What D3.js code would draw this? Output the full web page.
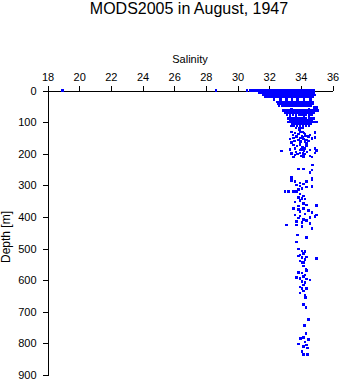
<!DOCTYPE html>
<html>
<head>
<meta charset="utf-8">
<script src="https://cdn.jsdelivr.net/npm/d3@7"></script>
<style>
  html, body { margin: 0; padding: 0; background: #fff; }
  svg { display: block; }
  text { font-family: "Liberation Sans", Arial, Helvetica, sans-serif; fill: #000; }
</style>
</head>
<body>
<svg id="chart" width="341" height="384"></svg>
<script>
// Chart text and axis ticks
const chartTitle = "MODS2005 in August, 1947";
const xLabel = "Salinity";
const yLabel = "Depth [m]";
const salinityTicks = [18, 20, 22, 24, 26, 28, 30, 32, 34, 36];
const depthTicks = [0, 100, 200, 300, 400, 500, 600, 700, 800, 900];

// Observation depths (m) and the salinities recorded at each depth
const obsDepths = [
  0, 8, 14, 21, 28, 36, 42, 48, 53, 58, 64, 70, 77, 82, 88, 94, 100,
  106, 112, 118, 123, 132, 133, 135, 138, 141, 144, 146, 148, 151, 152, 154, 157,
  159, 162, 165, 167, 172, 176, 180, 183, 186, 188, 190, 191, 194, 197, 199, 201,
  204, 207, 209, 211, 236, 249, 251, 260, 276, 278, 283, 285, 288, 292, 296, 299,
  302, 304, 306, 310, 313, 320, 327, 334, 338, 341, 344, 348, 352, 357, 362, 364,
  365, 373, 376, 380, 383, 386, 391, 394, 397, 399, 401, 404, 408, 412, 415, 418,
  420, 426, 431, 436, 457, 465, 480, 502, 507, 510, 515, 520, 524, 526, 528, 531,
  535, 539, 544, 555, 566, 570, 576, 578, 584, 589, 591, 594, 597, 600, 605, 608,
  615, 621, 626, 634, 640, 647, 655, 677, 686, 724, 743, 768, 781, 784, 787, 795,
  802, 805, 810, 814, 826, 835
];

const obsSalinity = [
  [18.95, 28.65, 30.6, 30.82, 30.95, 31.08, 31.2, 31.33, 31.46, 31.6, 31.72, 31.85, 31.98, 32.1, 32.24, 32.37, 32.5, 32.62, 32.75, 32.88, 33.0, 33.14, 33.27, 33.4, 33.52, 33.65, 33.78, 33.9, 34.04, 34.17, 34.3, 34.42, 34.55, 34.68, 34.8],
  [31.4, 31.55, 31.68, 31.8, 31.95, 32.08, 32.2, 32.34, 32.46, 32.6, 32.72, 32.86, 33.0, 33.12, 33.26, 33.4, 33.52, 33.66, 33.8, 33.92, 34.06, 34.2, 34.32, 34.45, 34.58, 34.7, 34.84],
  [31.62, 31.76, 31.9, 32.02, 32.15, 32.28, 32.42, 32.54, 32.68, 32.8, 32.94, 33.06, 33.2, 33.32, 33.46, 33.58, 33.72, 33.84, 33.98, 34.1, 34.24, 34.36, 34.5, 34.62, 34.76, 34.9],
  [31.76, 31.9, 32.02, 32.16, 32.28, 32.42, 32.54, 32.68, 32.8, 32.94, 33.06, 33.2, 33.32, 33.46, 33.58, 33.72, 33.84, 33.98, 34.1, 34.24, 34.36, 34.5, 34.62, 34.76],
  [32.3, 32.7, 33.1, 33.45, 33.8, 34.2, 34.6],
  [32.5, 32.62, 32.76, 32.9, 33.02, 33.16, 33.3, 33.42, 33.56, 33.7, 33.82, 33.96, 34.08, 34.22, 34.36, 34.48, 34.62, 34.76],
  [32.6, 32.74, 32.88, 33.0, 33.14, 33.28, 33.4, 33.54, 33.66, 33.8, 33.94, 34.06, 34.2, 34.34, 34.46, 34.6, 34.74],
  [32.62, 32.8, 32.95, 33.1, 33.25, 33.4, 33.56, 33.72, 33.88, 34.02, 34.18, 34.32, 34.48, 34.62],
  [34.84, 35.0],
  [33.4, 34.5, 34.95],
  [32.9, 33.04, 33.18, 33.3, 33.44, 33.58, 33.7, 33.84, 33.98, 34.1, 34.24, 34.38, 34.5, 34.64, 34.78, 34.92, 35.06],
  [33.0, 33.15, 33.3, 33.46, 33.6, 33.76, 33.9, 34.06, 34.2, 34.36, 34.5, 34.66, 34.82],
  [33.12, 33.3, 33.5, 33.7, 33.9, 34.1, 34.3, 34.5, 34.66],
  [33.3, 33.7, 34.2, 34.5],
  [33.22, 33.38, 33.54, 33.7, 33.86, 34.02, 34.18, 34.34, 34.5, 34.66, 34.8],
  [33.3, 33.46, 33.62, 33.78, 33.94, 34.1, 34.26, 34.42, 34.58, 34.72],
  [33.22, 33.4, 33.56, 33.72, 33.88, 34.04, 34.2, 34.36, 34.52, 34.68, 34.84, 35.0],
  [33.45, 33.6, 33.8, 33.95, 34.12, 34.3, 34.46, 34.62],
  [33.4, 33.58, 33.76, 33.96, 34.14, 34.32, 34.5],
  [33.7, 33.9, 34.1],
  [33.91],
  [33.42, 33.95, 34.1],
  [34.9],
  [33.63, 34.2],
  [33.85, 34.27],
  [34.58, 33.5],
  [34.06, 34.3],
  [33.74, 34.48],
  [34.9, 34.1],
  [33.53, 33.95],
  [34.69],
  [33.32, 34.16],
  [33.84, 34.35],
  [34.48, 33.6],
  [34.0, 34.25],
  [33.42, 33.95],
  [34.37],
  [33.53, 33.95],
  [34.37, 33.75],
  [34.1],
  [33.63, 34.27, 34.9],
  [33.32, 34.05],
  [33.95, 34.58],
  [35.0, 34.2],
  [32.79],
  [33.7, 34.4],
  [33.95, 34.9],
  [33.42, 34.15],
  [34.27, 33.8],
  [33.63],
  [34.58, 34.0],
  [34.16],
  [33.53, 34.69],
  [34.73],
  [33.84, 34.16],
  [34.69],
  [34.58],
  [33.42],
  [34.69],
  [34.69],
  [33.42],
  [33.63, 34.37],
  [33.95],
  [34.16],
  [33.74],
  [33.95],
  [34.69],
  [34.37],
  [34.06],
  [33.84],
  [33.0, 33.21, 33.53, 33.74],
  [33.95],
  [34.16],
  [33.84],
  [34.06],
  [34.27],
  [33.95],
  [33.63],
  [34.16],
  [34.37],
  [35.0],
  [33.84],
  [33.53, 34.16],
  [33.84],
  [34.48],
  [33.95],
  [34.69],
  [34.27],
  [33.63, 35.0],
  [33.95],
  [34.9],
  [34.58],
  [33.84],
  [34.16],
  [34.37],
  [33.74],
  [34.06],
  [34.58],
  [33.11, 33.72],
  [34.06],
  [34.69],
  [33.78],
  [34.37],
  [33.74],
  [33.84],
  [34.06],
  [34.27],
  [34.16],
  [33.95],
  [33.84],
  [34.37],
  [34.06],
  [35.0],
  [34.27],
  [33.95],
  [34.06, 34.16],
  [34.16],
  [34.33],
  [34.37],
  [33.84],
  [34.06],
  [34.27],
  [34.16],
  [33.74],
  [33.95],
  [34.37],
  [34.58],
  [34.06],
  [34.27],
  [34.16],
  [33.95],
  [34.06, 34.37],
  [34.16],
  [33.95],
  [34.27],
  [34.31],
  [34.16],
  [34.33],
  [34.48],
  [34.22],
  [34.33],
  [34.16],
  [33.99],
  [34.48],
  [34.27],
  [33.84],
  [34.37],
  [34.16],
  [34.43],
  [34.06],
  [34.16, 34.41]
];

// Flatten into one record per sample
const samples = obsDepths.flatMap((depth, i) =>
  (obsSalinity[i] || []).map(sal => ({ depth, sal })));

const svg = d3.select("#chart");
svg.append("rect").attr("width", 341).attr("height", 384).attr("fill", "#fff");

const x = d3.scaleLinear().domain([18, 36]).range([47.5, 332.5]);
const y = d3.scaleLinear().domain([0, 900]).range([90.5, 375]);

// Title
svg.append("text")
  .attr("x", 189).attr("y", 14)
  .attr("text-anchor", "middle")
  .attr("font-size", 16)
  .text(chartTitle);

// Salinity axis along the top
const xAxis = svg.append("g")
  .attr("transform", `translate(0,${y(0)})`)
  .call(d3.axisTop(x).tickValues(salinityTicks).tickFormat(d3.format("d"))
    .tickSize(5).tickSizeOuter(0).tickPadding(5));

// Depth axis on the left
const yAxis = svg.append("g")
  .attr("transform", `translate(${x(18)},0)`)
  .call(d3.axisLeft(y).tickValues(depthTicks).tickFormat(d3.format("d"))
    .tickSize(5).tickSizeOuter(0).tickPadding(6));

[xAxis, yAxis].forEach(g => {
  g.attr("font-family", null).attr("font-size", null);
  g.selectAll("text").attr("font-size", 11).attr("fill", "#000");
  g.selectAll("line, path").attr("stroke", "#000").attr("shape-rendering", "crispEdges");
});

// Axis titles
svg.append("text")
  .attr("x", 190).attr("y", 63)
  .attr("text-anchor", "middle")
  .attr("font-size", 11)
  .text(xLabel);

svg.append("text")
  .attr("transform", `translate(10,237) rotate(-90)`)
  .attr("text-anchor", "middle")
  .attr("font-size", 12)
  .text(yLabel);

// Sample markers
svg.append("g")
  .attr("fill", "#0000ff")
  .attr("shape-rendering", "crispEdges")
  .selectAll("rect")
  .data(samples)
  .join("rect")
  .attr("x", d => x(d.sal) - 1.25)
  .attr("y", d => y(d.depth) - 1.25)
  .attr("width", 2.5)
  .attr("height", 2.5);
</script>
</body>
</html>
